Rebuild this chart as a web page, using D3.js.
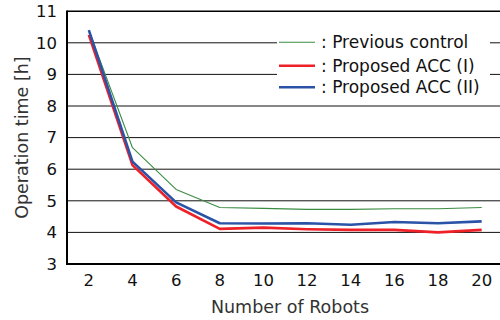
<!DOCTYPE html>
<html><head><meta charset="utf-8">
<script src="https://cdn.jsdelivr.net/npm/d3@7"></script>
<style>body{margin:0;background:#fff}svg{display:block}text{font-family:"DejaVu Sans",Verdana,sans-serif}</style>
</head><body><svg id="c" width="500" height="320"></svg>
<script>
const robots = [2,4,6,8,10,12,14,16,18,20];
const previousControl = [10.40,6.68,5.36,4.79,4.76,4.73,4.73,4.75,4.75,4.79];
const proposedACC1 = [10.25,6.13,4.82,4.11,4.15,4.10,4.08,4.08,4.00,4.08];
const proposedACC2 = [10.40,6.24,4.95,4.29,4.28,4.29,4.24,4.33,4.29,4.35];
const yTicks = [3,4,5,6,7,8,9,10,11];
const seriesNames = [": Previous control", ": Proposed ACC (I)", ": Proposed ACC (II)"];
const seriesColors = ["#3a8c42", "#ee2028", "#2a52a6"];
const seriesWidths = [1.1, 2.6, 2.6];

const svg = d3.select("#c");
const L = 67, R = 503.5, T = 11.2, B = 264;
const x = d3.scaleBand().domain(robots).range([L, R]);
const y = d3.scaleLinear().domain([3, 11]).range([B, T]);
const cx = d => x(d) + x.bandwidth() / 2;

// gridlines
svg.append("g").selectAll("line").data(yTicks.filter(v => v > 3 && v < 11)).join("line")
  .attr("x1", L).attr("x2", 500).attr("y1", d => y(d)).attr("y2", d => y(d))
  .attr("stroke", "#111").attr("stroke-width", 1);
// top border
svg.append("line").attr("x1", L).attr("x2", 500).attr("y1", y(11)).attr("y2", y(11))
  .attr("stroke", "#000").attr("stroke-width", 1.6);

// legend background
svg.append("rect").attr("x", 277).attr("y", 30).attr("width", 213).attr("height", 68).attr("fill", "#fff");

// axes
const yAxis = d3.axisLeft(y).tickValues(yTicks).tickSize(0).tickPadding(10).tickFormat(d3.format("d"));
const gy = svg.append("g").attr("transform", `translate(${L},0)`).call(yAxis);
gy.select(".domain").remove();
gy.selectAll("text").attr("font-size", 16.5).attr("fill", "#111").attr("font-family", "DejaVu Sans, Verdana, sans-serif");
const xAxis = d3.axisBottom(x).tickSize(0).tickPadding(10);
const gx = svg.append("g").attr("transform", `translate(0,${B})`).call(xAxis);
gx.select(".domain").remove();
gx.selectAll("text").attr("font-size", 16.5).attr("fill", "#111").attr("font-family", "DejaVu Sans, Verdana, sans-serif");

svg.append("line").attr("x1", L).attr("x2", L).attr("y1", T - 0.8).attr("y2", B + 1)
  .attr("stroke", "#000").attr("stroke-width", 2);
svg.append("line").attr("x1", L - 1).attr("x2", 500).attr("y1", B).attr("y2", B)
  .attr("stroke", "#000").attr("stroke-width", 2.2);

// series
const allSeries = [previousControl, proposedACC1, proposedACC2];
const line = d3.line().x((d, i) => cx(robots[i])).y(d => y(d));
allSeries.forEach((s, k) => {
  svg.append("path").datum(s).attr("d", line).attr("fill", "none")
    .attr("stroke", seriesColors[k]).attr("stroke-width", seriesWidths[k]).attr("stroke-linejoin", "round");
});

// legend
const legY = [42.3, 65.7, 87.3];
seriesNames.forEach((n, k) => {
  svg.append("line").attr("x1", 279).attr("x2", 315).attr("y1", legY[k]).attr("y2", legY[k])
    .attr("stroke", seriesColors[k]).attr("stroke-width", seriesWidths[k]);
  svg.append("text").attr("x", 321).attr("y", legY[k] + 6).attr("font-size", 17).attr("fill", "#111")
    .text(n);
});

// axis titles
svg.append("text").attr("x", 290).attr("y", 312.5).attr("text-anchor", "middle")
  .attr("font-size", 17.5).attr("fill", "#333").text("Number of Robots");
svg.append("text").attr("transform", `translate(28,${(T + B) / 2}) rotate(-90)`).attr("text-anchor", "middle")
  .attr("font-size", 17.5).attr("fill", "#333").text("Operation time [h]");
</script></body></html>
